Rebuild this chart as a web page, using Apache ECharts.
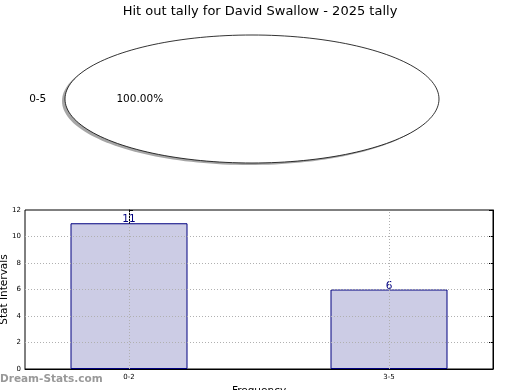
<!DOCTYPE html>
<html><head><meta charset="utf-8">
<script src="https://cdn.jsdelivr.net/npm/echarts@6/dist/echarts.min.js"></script>
<style>html,body{margin:0;padding:0;background:#fff}#c{width:520px;height:390px}</style>
</head><body><div id="c"></div>
<script>
const titleText = 'Hit out tally for David Swallow - 2025 tally';
const pieLabels = ['0-5'];
const pieValues = [17];
const barCategories = ['0-2', '3-5'];
const barValues = [11, 6];
const yTicks = [0, 2, 4, 6, 8, 10, 12];

const FONT = 'DejaVu Sans';
const gridL = 25, gridR = 27, gridT = 210, gridB = 21;
const xMin = -0.4, xMax = 1.4;
const plotW = 520 - gridL - gridR;
const barW = 0.45 * plotW / (xMax - xMin);

const pieCx = 252, pieCy = 99, pieRx = 187, pieRy = 64;
const total = pieValues.reduce((a, b) => a + b, 0);

function ellipsePts(a0, a1, cx, cy, full) {
  const pts = [];
  const n = 180;
  if (!full) pts.push([cx, cy]);
  for (let i = 0; i <= n; i++) {
    const a = a0 + (a1 - a0) * i / n;
    pts.push([cx + pieRx * Math.cos(a), cy - pieRy * Math.sin(a)]);
  }
  return pts;
}

const chart = echarts.init(document.getElementById('c'), null, {renderer: 'canvas'});
chart.setOption({
  animation: false,
  title: {text: titleText, left: 'center', top: 0,
    textStyle: {fontFamily: FONT, fontSize: 13, fontWeight: 'normal', color: '#000'}},
  graphic: [{type: 'text', left: 0, top: 374,
    style: {text: 'Dream-Stats.com', fontFamily: FONT, fontSize: 10.5, fontWeight: 'bold', fill: '#999999'}}],
  grid: {left: gridL, right: gridR, top: gridT, bottom: gridB, show: true,
    outerBoundsMode: 'none', containLabel: false,
    borderColor: '#000', borderWidth: 1, backgroundColor: 'transparent'},
  xAxis: [{type: 'value', min: xMin, max: xMax,
    name: 'Frequency', nameLocation: 'middle', nameGap: 17, nameMoveOverlap: false,
    nameTextStyle: {fontFamily: FONT, fontSize: 10.5, color: '#000'},
    axisLine: {show: true, lineStyle: {color: '#000'}},
    axisTick: {show: true, inside: true, length: 4, customValues: [0, 1], lineStyle: {color: '#000'}},
    axisLabel: {show: true, customValues: [0, 1], margin: 5,
      formatter: v => barCategories[Math.round(v)] || '',
      fontFamily: FONT, fontSize: 7, color: '#000'},
    splitLine: {show: false}}],
  yAxis: [{type: 'value', min: 0, max: 12, interval: 2,
    name: 'Stat Intervals', nameLocation: 'middle', nameGap: 15, nameMoveOverlap: false,
    nameTextStyle: {fontFamily: FONT, fontSize: 10.5, color: '#000'},
    axisLine: {show: true, lineStyle: {color: '#000'}},
    axisTick: {show: true, inside: true, length: 4, lineStyle: {color: '#000'}},
    axisLabel: {fontFamily: FONT, fontSize: 7, color: '#000', margin: 4},
    splitLine: {show: false}},
    {type: 'value', min: 0, max: 12, interval: 2, position: 'right',
    axisLine: {show: true, lineStyle: {color: '#000'}},
    axisTick: {show: true, inside: true, length: 4, lineStyle: {color: '#000'}},
    axisLabel: {show: false}, splitLine: {show: false}}],
  series: [
    {type: 'bar', barWidth: barW,
      data: barValues.map((v, i) => [i, v]),
      itemStyle: {color: '#cccce5', borderColor: '#000080', borderWidth: 1},
      label: {show: true, position: 'top', distance: -2,
        fontFamily: FONT, fontSize: 10.5, color: '#000080'},
      markLine: {silent: true, symbol: 'none', z: 10, label: {show: false},
        lineStyle: {color: '#b0b0b0', type: [1, 2], width: 1},
        data: yTicks.filter(t => t > 0 && t < 12).map(t => ({yAxis: t}))
          .concat(barCategories.map((c, i) => ({xAxis: i})))}
    },
    {type: 'custom', coordinateSystem: 'none', data: pieValues.map((v, i) => [v, i]),
      renderItem: function (params, api) {
        const idx = params.dataIndex;
        let start = 0;
        for (let k = 0; k < idx; k++) start += pieValues[k];
        const a0 = start / total * 2 * Math.PI;
        const a1 = (start + pieValues[idx]) / total * 2 * Math.PI;
        const full = pieValues[idx] === total;
        const mid = (a0 + a1) / 2;
        const lx = pieCx + 1.1 * pieRx * Math.cos(mid);
        const ly = pieCy - 1.1 * pieRy * Math.sin(mid);
        const px = pieCx + 0.6 * pieRx * Math.cos(mid);
        const py = pieCy - 0.6 * pieRy * Math.sin(mid);
        const pct = (pieValues[idx] / total * 100).toFixed(2) + '%';
        return {type: 'group', children: [
          {type: 'polygon', shape: {points: ellipsePts(a0, a1, pieCx - 3, pieCy + 2, full)},
            style: {fill: 'rgba(0,0,0,0.35)', stroke: 'none'}},
          {type: 'polygon', shape: {points: ellipsePts(a0, a1, pieCx, pieCy, full)},
            style: {fill: '#ffffff', stroke: '#000', lineWidth: 0.8}},
          {type: 'text', x: lx, y: ly, style: {text: pieLabels[idx], fontFamily: FONT, fontSize: 10.5,
            fill: '#000', align: Math.cos(mid) < 0 ? 'right' : 'left', verticalAlign: 'middle'}},
          {type: 'text', x: px, y: py, style: {text: pct, fontFamily: FONT, fontSize: 10.5,
            fill: '#000', align: 'center', verticalAlign: 'middle'}}
        ]};
      }}
  ]
});
</script></body></html>
